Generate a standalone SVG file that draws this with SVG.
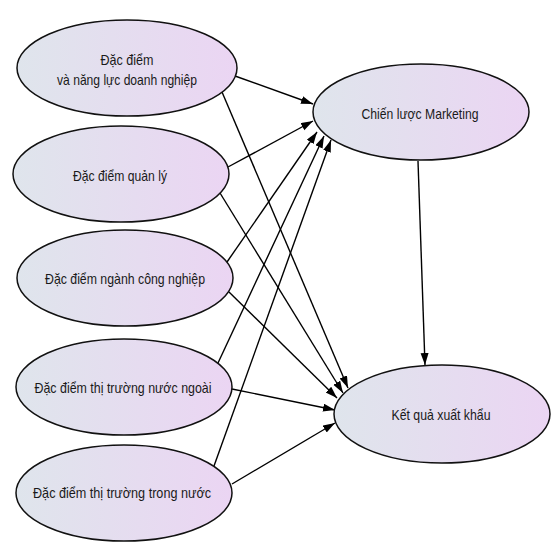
<svg xmlns="http://www.w3.org/2000/svg" width="555" height="559" viewBox="0 0 555 559">
<defs>
<linearGradient id="g" x1="0" y1="0" x2="1" y2="0">
<stop offset="0" stop-color="#dfe5ec"/>
<stop offset="1" stop-color="#ebd5f3"/>
</linearGradient>
<marker id="ah" markerUnits="userSpaceOnUse" markerWidth="13" markerHeight="9" refX="12" refY="4" orient="auto">
<path d="M0,0 L12,4 L0,8 Z" fill="#000"/>
</marker>
<style>
.n{fill:url(#g);stroke:#111;stroke-width:1.5}
.t{font-family:"Liberation Sans",Arial,sans-serif;font-size:15px;fill:#1a1a1a;text-anchor:middle}
.c line{stroke:#000;stroke-width:1.4;marker-end:url(#ah)}
</style>
</defs>
<rect width="555" height="559" fill="#fff"/>
<g class="c" id="connectors">
<line x1="235" y1="76" x2="313" y2="104"/>
<line x1="222" y1="92" x2="348" y2="388"/>
<line x1="228" y1="167" x2="313" y2="121"/>
<line x1="220" y1="193" x2="343" y2="393"/>
<line x1="227" y1="262" x2="317" y2="132"/>
<line x1="229" y1="292" x2="337" y2="398"/>
<line x1="218" y1="363" x2="324" y2="136"/>
<line x1="232" y1="389" x2="335" y2="410"/>
<line x1="214" y1="466" x2="331" y2="140"/>
<line x1="232" y1="484" x2="335" y2="423"/>
<line x1="418" y1="161" x2="425" y2="365"/>
</g>
<g id="n1"><ellipse class="n" cx="127" cy="68" rx="110" ry="48"/>
<text class="t" x="127" y="65" textLength="53" lengthAdjust="spacingAndGlyphs">Đặc điểm</text>
<text class="t" x="127" y="85" textLength="140" lengthAdjust="spacingAndGlyphs">và năng lực doanh nghiệp</text></g>
<g id="n2"><ellipse class="n" cx="121" cy="174" rx="108" ry="48"/>
<text class="t" x="120" y="181" textLength="94" lengthAdjust="spacingAndGlyphs">Đặc điểm quản lý</text></g>
<g id="n3"><ellipse class="n" cx="125" cy="278" rx="108" ry="48"/>
<text class="t" x="125" y="284" textLength="160" lengthAdjust="spacingAndGlyphs">Đặc điểm ngành công nghiệp</text></g>
<g id="n4"><ellipse class="n" cx="124" cy="387" rx="108" ry="48"/>
<text class="t" x="123" y="393" textLength="177" lengthAdjust="spacingAndGlyphs">Đặc điểm thị trường nước ngoài</text></g>
<g id="n5"><ellipse class="n" cx="124" cy="493" rx="108" ry="48"/>
<text class="t" x="122" y="498" textLength="178" lengthAdjust="spacingAndGlyphs">Đặc điểm thị trường trong nước</text></g>
<g id="n6"><ellipse class="n" cx="421" cy="112" rx="108" ry="48"/>
<text class="t" x="420" y="119" textLength="117" lengthAdjust="spacingAndGlyphs">Chiến lược Marketing</text></g>
<g id="n7"><ellipse class="n" cx="442" cy="414" rx="108" ry="49"/>
<text class="t" x="441" y="420" textLength="99" lengthAdjust="spacingAndGlyphs">Kết quả xuất khẩu</text></g>
</svg>
